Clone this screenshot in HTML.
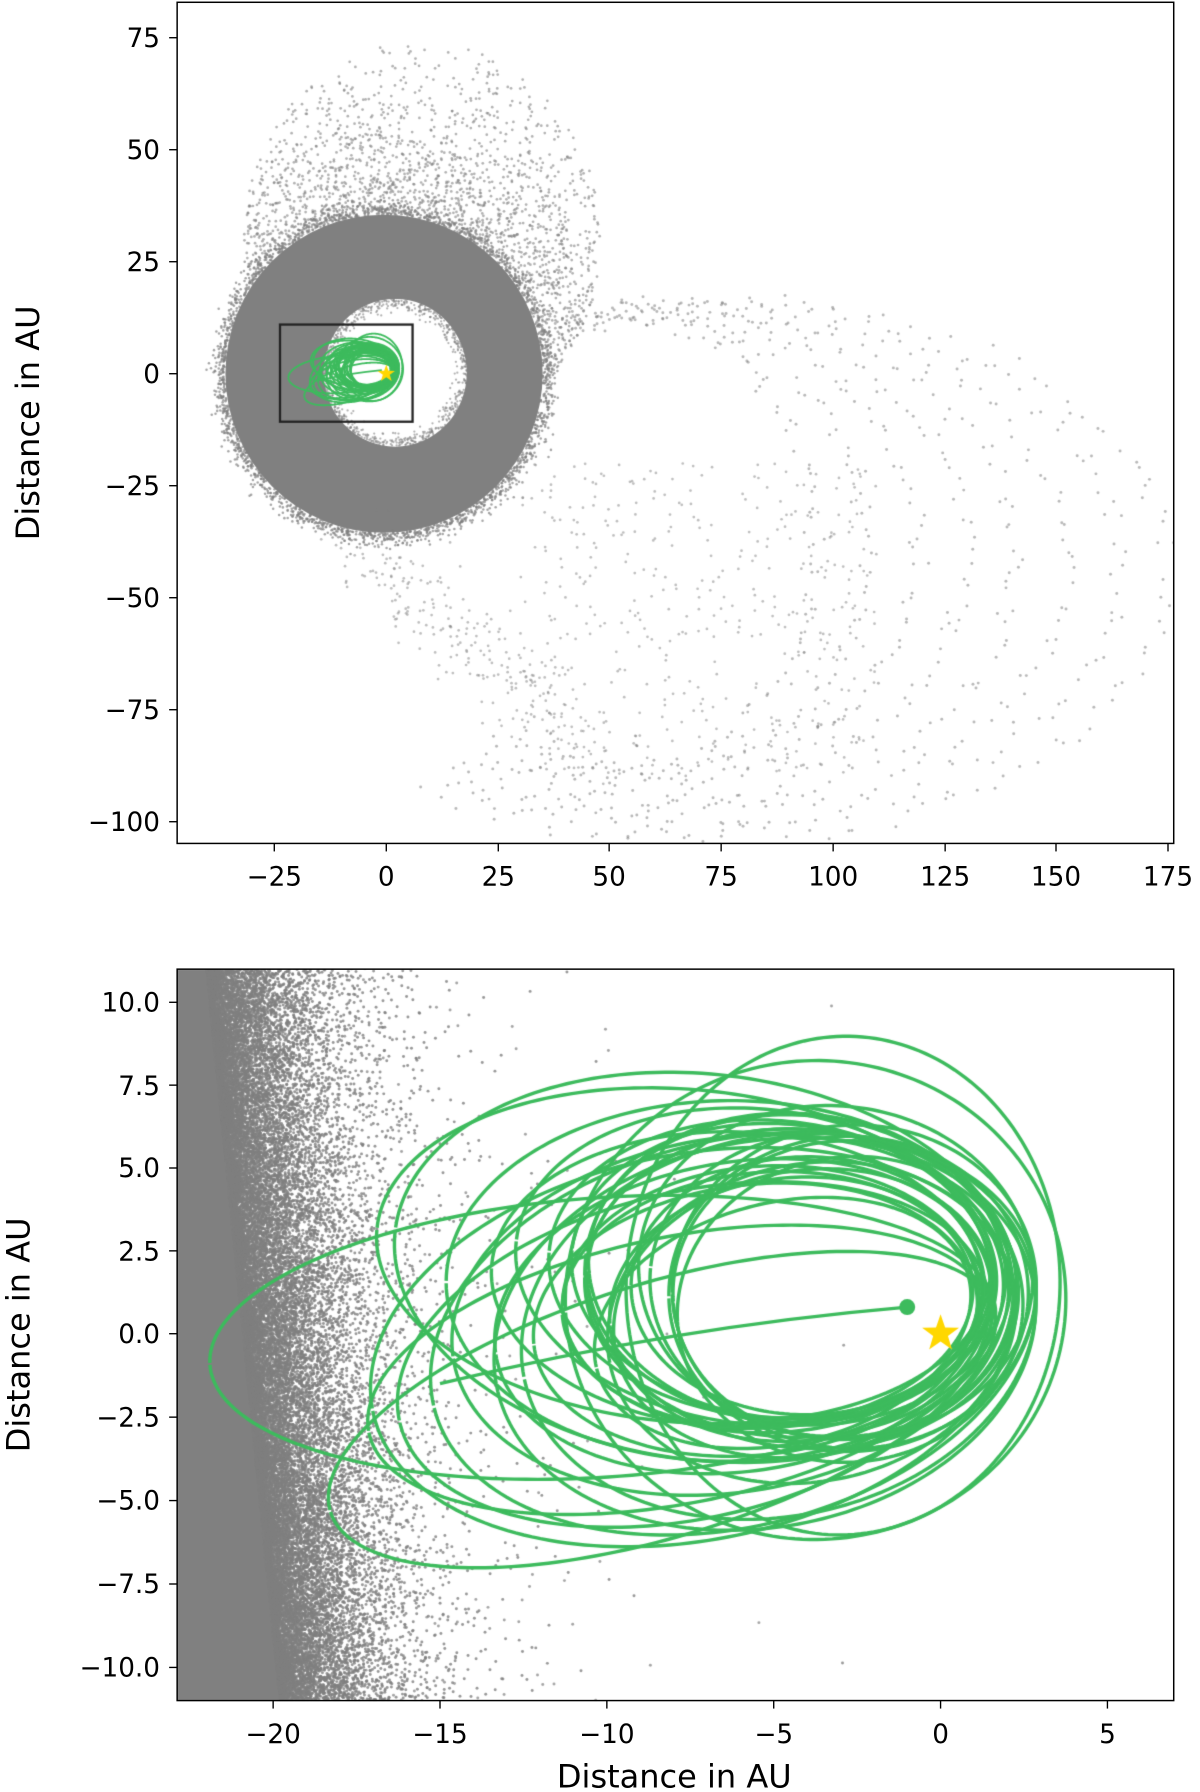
<!DOCTYPE html>
<html><head><meta charset="utf-8"><style>
html,body{margin:0;padding:0;background:#fff;}
#wrap{position:relative;width:1200px;height:1792px;overflow:hidden;}
canvas,svg{position:absolute;left:0;top:0;}
text{font-family:"DejaVu Sans","Liberation Sans",sans-serif;fill:#000;}
</style></head><body><div id="wrap">
<canvas id="c" width="1200" height="1792"></canvas>
<svg width="1200" height="1792" viewBox="0 0 1050 1568">
<g font-size="23">
<rect x="155" y="2" width="872" height="736" fill="none" stroke="#000" stroke-width="1.3"/>
<g text-anchor="end">
<text x="140" y="41">75</text><text x="140" y="139">50</text><text x="140" y="237">25</text>
<text x="140" y="335">0</text><text x="140" y="433">−25</text><text x="140" y="531">−50</text>
<text x="140" y="629">−75</text><text x="140" y="727">−100</text></g>
<g stroke="#000" stroke-width="1.2">
<line x1="148" x2="155" y1="33" y2="33"/><line x1="148" x2="155" y1="131" y2="131"/><line x1="148" x2="155" y1="229" y2="229"/><line x1="148" x2="155" y1="327" y2="327"/><line x1="148" x2="155" y1="425" y2="425"/><line x1="148" x2="155" y1="523" y2="523"/><line x1="148" x2="155" y1="621" y2="621"/><line x1="148" x2="155" y1="719" y2="719"/>
<line y1="738" y2="745" x1="240" x2="240"/><line y1="738" y2="745" x1="338" x2="338"/><line y1="738" y2="745" x1="436" x2="436"/><line y1="738" y2="745" x1="533" x2="533"/><line y1="738" y2="745" x1="631" x2="631"/><line y1="738" y2="745" x1="729" x2="729"/><line y1="738" y2="745" x1="827" x2="827"/><line y1="738" y2="745" x1="924" x2="924"/><line y1="738" y2="745" x1="1022" x2="1022"/>
</g>
<g text-anchor="middle">
<text x="240" y="775">−25</text><text x="338" y="775">0</text><text x="436" y="775">25</text><text x="533" y="775">50</text><text x="631" y="775">75</text><text x="729" y="775">100</text><text x="827" y="775">125</text><text x="924" y="775">150</text><text x="1022" y="775">175</text></g>
<text x="0" y="0" font-size="28" text-anchor="middle" transform="translate(34,370) rotate(-90)">Distance in AU</text>

<rect x="155" y="848" width="872" height="640" fill="none" stroke="#000" stroke-width="1.3"/>
<g text-anchor="end">
<text x="140" y="885">10.0</text><text x="140" y="958">7.5</text><text x="140" y="1030">5.0</text><text x="140" y="1103">2.5</text><text x="140" y="1175">0.0</text><text x="140" y="1248">−2.5</text><text x="140" y="1321">−5.0</text><text x="140" y="1394">−7.5</text><text x="140" y="1467">−10.0</text></g>
<g stroke="#000" stroke-width="1.2">
<line x1="148" x2="155" y1="877" y2="877"/><line x1="148" x2="155" y1="949.5" y2="949.5"/><line x1="148" x2="155" y1="1022" y2="1022"/><line x1="148" x2="155" y1="1094.5" y2="1094.5"/><line x1="148" x2="155" y1="1167" y2="1167"/><line x1="148" x2="155" y1="1240" y2="1240"/><line x1="148" x2="155" y1="1313" y2="1313"/><line x1="148" x2="155" y1="1386" y2="1386"/><line x1="148" x2="155" y1="1459" y2="1459"/>
<line y1="1488" y2="1495" x1="239" x2="239"/><line y1="1488" y2="1495" x1="385" x2="385"/><line y1="1488" y2="1495" x1="531" x2="531"/><line y1="1488" y2="1495" x1="677" x2="677"/><line y1="1488" y2="1495" x1="823" x2="823"/><line y1="1488" y2="1495" x1="969" x2="969"/>
</g>
<g text-anchor="middle">
<text x="239" y="1525">−20</text><text x="385" y="1525">−15</text><text x="531" y="1525">−10</text><text x="677" y="1525">−5</text><text x="823" y="1525">0</text><text x="969" y="1525">5</text></g>
<text x="590" y="1564" font-size="28" text-anchor="middle">Distance in AU</text>
<text x="0" y="0" font-size="28" text-anchor="middle" transform="translate(26,1168) rotate(-90)">Distance in AU</text>
</g>
</svg>
</div>
<script>
var cv=document.getElementById('c'),ctx=cv.getContext('2d');
ctx.scale(1200/1050,1200/1050);
var s=12345;function r(){s|=0;s=s+0x6D2B79F5|0;var t=Math.imul(s^s>>>15,1|s);t=t+Math.imul(t^t>>>7,61|t)^t;return((t^t>>>14)>>>0)/4294967296;}
function g(){return Math.sqrt(-2*Math.log(r()+1e-9))*Math.cos(6.2832*r());}
function TX(x){return 338+x*3.91;}function TY(y){return 327-y*3.92;}
function BX(x){return 823+x*29.2;}function BY(y){return 1167-y*29.1;}
var GR='#808080';
function dot(x,y,rad,a){ctx.globalAlpha=a;ctx.beginPath();ctx.arc(x,y,rad,0,6.2832);ctx.fill();}
ctx.save();ctx.beginPath();ctx.rect(155,2,872,736);ctx.clip();
ctx.fillStyle=GR;
ctx.beginPath();ctx.ellipse(TX(-0.5),TY(0),35.5*3.91,35.5*3.92,0,0,6.2832);ctx.closePath();
ctx.moveTo(TX(2)+16*3.91,TY(0.2));
ctx.ellipse(TX(2),TY(0.2),16*3.91,16.5*3.92,0,0,6.2832,false);ctx.closePath();ctx.fill('evenodd');
for(var i=0;i<2000;i++){var t=r()*6.2832,rr=35.5+Math.abs(g())*1.6;dot(TX(-0.5+rr*Math.cos(t)),TY(rr*Math.sin(t)),1.1,0.7);}
for(var i=0;i<700;i++){var t=r()*6.2832,rr=16-Math.abs(g())*1.2;dot(TX(2+rr*Math.cos(t)),TY(0.2+rr*Math.sin(t)*1.03),1.0,0.6);}
var n=0;while(n<1800){var x=-38+r()*86,y=0+r()*75;var dx=(x-8)/40,dy=(y-30)/44;if(dx*dx+dy*dy>1)continue;if(x*x+y*y<36*36)continue;
if(y<5&&x<0)continue;var d=Math.sqrt(x*x+y*y);var p=Math.exp(-(d-36)/18);if(r()>p)continue;dot(TX(x),TY(y),1.2,0.6);n++;}
for(var k=0;k<8;k++){var cx=56+k*2,cy=-38-k*0.8,rx=40+k*9.4,ry=50+k*1.5;
for(var t=-2.2;t<1.9;t+=0.035+r()*0.02){var x=cx+rx*Math.cos(t)+g()*1.2,y=cy+ry*Math.sin(t)+g()*1.2;if(x*x+y*y<37*37)continue;if(y>26)continue;dot(TX(x),TY(y),1.3,0.55);}}
for(var i=0;i<400;i++){var x=30+r()*80,y=-90+r()*70;dot(TX(x),TY(y),1.2,0.5);}
for(var i=0;i<250;i++){var t=r();var x=-8+t*55+g()*5,y=-38-t*45+g()*5;dot(TX(x),TY(y),1.2,0.5);}
ctx.globalAlpha=1;ctx.restore();
ctx.save();ctx.beginPath();ctx.rect(155,848,872,640);ctx.clip();
function edge(y){return -20.6-0.1*y;}
ctx.fillStyle=GR;ctx.beginPath();ctx.moveTo(BX(-24),BY(12));
for(var y=12;y>=-12;y-=0.5){ctx.lineTo(BX(edge(y)+Math.sin(y*3)*0.15),BY(y));}
ctx.lineTo(BX(-24),BY(-12));ctx.fill();
for(var i=0;i<30000;i++){var y=-11.2+r()*22.4;var x=edge(y)-0.3+(-Math.log(r()+1e-9))*1.2;dot(BX(x),BY(y),1.3,0.8);}
for(var i=0;i<300;i++){var y=-11.2+r()*22.4;var x=edge(y)+1+(-Math.log(r()+1e-9))*3;dot(BX(x),BY(y),1.3,0.7);}
ctx.globalAlpha=1;
s=777;
var orbs=[];
// [theta, a, e, b, cyoff]
orbs.push([Math.PI+0.07,11.8,0.86,4.2,0.6]);orbs.push([Math.PI+0.3,10.4,0.84,3.8,0.3]);orbs.push([Math.PI+0.2,9.5,0.84,4,0.5]);
orbs.push([Math.PI-0.05,6.5,0.45,7.5,1.3]);orbs.push([Math.PI+0.05,7.5,0.5,7.2,1.2]);
for(var i=0;i<32;i++){var th=Math.PI+(r()-0.35)*0.4,a=5+r()*5.5,e=0.45+r()*0.4;var q=a*(1-e);if(q>3||q<0.8){i--;continue;}
var b=Math.min(a*Math.sqrt(1-e*e)*0.7+1.5,5.8);orbs.push([th,a,e,b,1+r()*0.8]);}
function drawOrb(X,Y,lw){ctx.strokeStyle='#3dbb5d';ctx.lineWidth=lw;ctx.globalAlpha=1;
for(var j=0;j<orbs.length;j++){var o=orbs[j],th=o[0],a=o[1],e=o[2],b=o[3];
var ux=Math.cos(th),uy=Math.sin(th),cx=a*e*ux,cy=a*e*uy+o[4];
ctx.beginPath();for(var t=0;t<=6.3;t+=0.03){var x=cx+a*Math.cos(t)*ux-b*Math.sin(t)*uy,y=cy+a*Math.cos(t)*uy+b*Math.sin(t)*ux;if(t==0)ctx.moveTo(X(x),Y(y));else ctx.lineTo(X(x),Y(y));}ctx.stroke();}
ctx.beginPath();ctx.moveTo(X(-1),Y(0.8));ctx.quadraticCurveTo(X(-8),Y(0.2),X(-15),Y(-1.5));ctx.stroke();}
drawOrb(BX,BY,3);
ctx.fillStyle='#3dbb5d';ctx.beginPath();ctx.arc(BX(-1),BY(0.8),7,0,6.2832);ctx.fill();
function star(x,y,R){ctx.fillStyle='#ffd700';ctx.globalAlpha=1;ctx.beginPath();for(var i=0;i<10;i++){var rr=i%2?R*0.4:R,a=-Math.PI/2+i*Math.PI/5;ctx.lineTo(x+rr*Math.cos(a),y+rr*Math.sin(a));}ctx.closePath();ctx.fill();}
star(BX(0),BY(0),17);
ctx.restore();
ctx.save();ctx.beginPath();ctx.rect(155,2,872,736);ctx.clip();
drawOrb(TX,TY,1.6);star(TX(0),TY(0),8);
ctx.strokeStyle='#222';ctx.lineWidth=2;ctx.strokeRect(245,284,116,85);
ctx.restore();
</script>
</body></html>
